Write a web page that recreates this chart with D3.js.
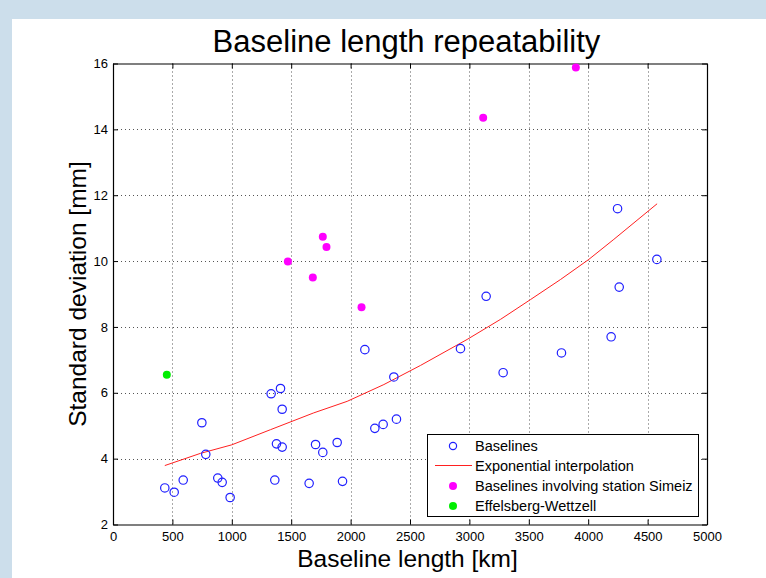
<!DOCTYPE html>
<html>
<head>
<meta charset="utf-8">
<script src="https://cdn.jsdelivr.net/npm/d3@7"></script>
<style>
  html, body { margin: 0; padding: 0; background: #ccdeeb; }
  svg { display: block; }
  text { font-family: "Liberation Sans", Arial, Helvetica, sans-serif; }
</style>
</head>
<body>
<svg id="chart"></svg>
<script>
// baseline length [km] / standard deviation [mm]
const baseLen = [436, 515, 591, 748, 781, 882, 919, 986, 1331, 1410, 1424, 1376, 1424, 1362,
  1651, 1705, 1766, 1887, 1932, 2120, 2204, 2274, 2364, 2386, 2925, 3141, 3284, 3775, 4193, 4247, 4261, 4578];
const baseStd = [3.11, 2.98, 3.35, 5.09, 4.13, 3.41, 3.28, 2.82, 5.97, 6.13, 5.50, 4.45, 4.35, 3.35,
  3.25, 4.43, 4.19, 4.49, 3.31, 7.31, 4.92, 5.04, 6.48, 5.20, 7.34, 8.93, 6.61, 7.21, 7.70, 11.59, 9.21, 10.05];

const fitLen = [436, 736, 1000, 1326, 1690, 1971, 2280, 2588, 2981, 3262, 3514, 3767, 4005, 4216, 4580];
const fitStd = [3.79, 4.16, 4.42, 4.88, 5.39, 5.74, 6.25, 6.83, 7.62, 8.23, 8.83, 9.44, 10.05, 10.66, 11.74];

const simLen = [1472, 1682, 1766, 1797, 2092, 3116, 3896];
const simStd = [9.99, 9.50, 10.74, 10.43, 8.60, 14.35, 15.88];

const effLen = [453];
const effStd = [6.55];

const xTicks = [0, 500, 1000, 1500, 2000, 2500, 3000, 3500, 4000, 4500, 5000];
const yTicks = [2, 4, 6, 8, 10, 12, 14, 16];

const legendLabels = ["Baselines", "Exponential interpolation", "Baselines involving station Simeiz", "Effelsberg-Wettzell"];

const W = 766, H = 578;
const svg = d3.select("#chart").attr("width", W).attr("height", H);

// white panel
svg.append("rect").attr("x", 12).attr("y", 19).attr("width", W - 12).attr("height", H - 19).attr("fill", "#fff");

const pLeft = 113, pRight = 707, pTop = 63.5, pBottom = 524.5;
const x = d3.scaleLinear().domain([0, 5000]).range([pLeft, pRight]);
const y = d3.scaleLinear().domain([2, 16]).range([pBottom, pTop]);

// grid
const grid = svg.append("g").attr("stroke", "#555").attr("stroke-width", 1).attr("stroke-dasharray", "1,3");
grid.selectAll("vgrid").data(xTicks.slice(1, -1)).enter().append("line")
  .attr("x1", d => Math.round(x(d)) + 0.5).attr("x2", d => Math.round(x(d)) + 0.5)
  .attr("y1", pTop).attr("y2", pBottom);
grid.selectAll("hgrid").data(yTicks.slice(1, -1)).enter().append("line")
  .attr("y1", d => Math.round(y(d)) + 0.5).attr("y2", d => Math.round(y(d)) + 0.5)
  .attr("x1", pLeft).attr("x2", pRight);

// axes (inward ticks, MATLAB style)
const fmt = d3.format("d");
const xAxis = svg.append("g").attr("transform", `translate(0,${pBottom})`)
  .call(d3.axisBottom(x).tickValues(xTicks).tickFormat(fmt).tickSizeInner(-5).tickSizeOuter(0));
const xTop = svg.append("g").attr("transform", `translate(0,${pTop})`)
  .call(d3.axisTop(x).tickValues(xTicks).tickFormat("").tickSizeInner(-5).tickSizeOuter(0));
const yAxis = svg.append("g").attr("transform", `translate(${pLeft},0)`)
  .call(d3.axisLeft(y).tickValues(yTicks).tickFormat(fmt).tickSizeInner(-5).tickSizeOuter(0).tickPadding(5));
const yRight = svg.append("g").attr("transform", `translate(${pRight},0)`)
  .call(d3.axisRight(y).tickValues(yTicks).tickFormat("").tickSizeInner(-5).tickSizeOuter(0));

[xAxis, xTop, yAxis, yRight].forEach(g => {
  g.select(".domain").attr("stroke", "#000").attr("stroke-width", 1.2);
  g.selectAll(".tick line").attr("stroke", "#000");
  g.selectAll(".tick text").attr("fill", "#000").style("font-size", "13px");
});
xAxis.selectAll(".tick text").attr("y", 16.5).attr("dy", 0);

// fit curve
const fit = fitLen.map((d, i) => [d, fitStd[i]]);
svg.append("path").datum(fit)
  .attr("fill", "none").attr("stroke", "#ff2020").attr("stroke-width", 1)
  .attr("d", d3.line().x(d => x(d[0])).y(d => y(d[1])));

// baselines
svg.selectAll("baseDots").data(baseLen.map((d, i) => [d, baseStd[i]])).enter().append("circle")
  .attr("cx", d => x(d[0])).attr("cy", d => y(d[1])).attr("r", 4.2)
  .attr("fill", "none").attr("stroke", "#2020ff").attr("stroke-width", 1.2);

svg.selectAll("simDots").data(simLen.map((d, i) => [d, simStd[i]])).enter().append("circle")
  .attr("cx", d => x(d[0])).attr("cy", d => y(d[1])).attr("r", 4)
  .attr("fill", "#ff00ff");

svg.selectAll("effDots").data(effLen.map((d, i) => [d, effStd[i]])).enter().append("circle")
  .attr("cx", d => x(d[0])).attr("cy", d => y(d[1])).attr("r", 4)
  .attr("fill", "#00ee00");

// legend
const lg = svg.append("g");
lg.append("rect").attr("x", 427.5).attr("y", 434.5).attr("width", 271).attr("height", 82)
  .attr("fill", "#fff").attr("stroke", "#000").attr("stroke-width", 1);
const rowY = [446, 465.5, 486, 506];
lg.selectAll("lt").data(legendLabels).enter().append("text")
  .attr("x", 475).attr("y", (d, i) => rowY[i]).attr("dy", "0.35em")
  .style("font-size", "14.5px").attr("fill", "#000").text(d => d);
lg.append("circle").attr("cx", 453).attr("cy", rowY[0]).attr("r", 3.6)
  .attr("fill", "none").attr("stroke", "#2020ff").attr("stroke-width", 1.2);
lg.append("line").attr("x1", 435).attr("x2", 472).attr("y1", rowY[1]).attr("y2", rowY[1])
  .attr("stroke", "#ff2020").attr("stroke-width", 1);
lg.append("circle").attr("cx", 453).attr("cy", rowY[2]).attr("r", 4).attr("fill", "#ff00ff");
lg.append("circle").attr("cx", 453).attr("cy", rowY[3]).attr("r", 4).attr("fill", "#00ee00");

// titles
svg.append("text").attr("x", 406.5).attr("y", 52).attr("text-anchor", "middle")
  .style("font-size", "31px").attr("fill", "#000").text("Baseline length repeatability");
svg.append("text").attr("x", 407.5).attr("y", 567).attr("text-anchor", "middle")
  .style("font-size", "24.5px").attr("fill", "#000").text("Baseline length [km]");
svg.append("text").attr("transform", "translate(86,294) rotate(-90)").attr("text-anchor", "middle")
  .style("font-size", "24.5px").attr("fill", "#000").text("Standard deviation [mm]");
</script>
</body>
</html>
